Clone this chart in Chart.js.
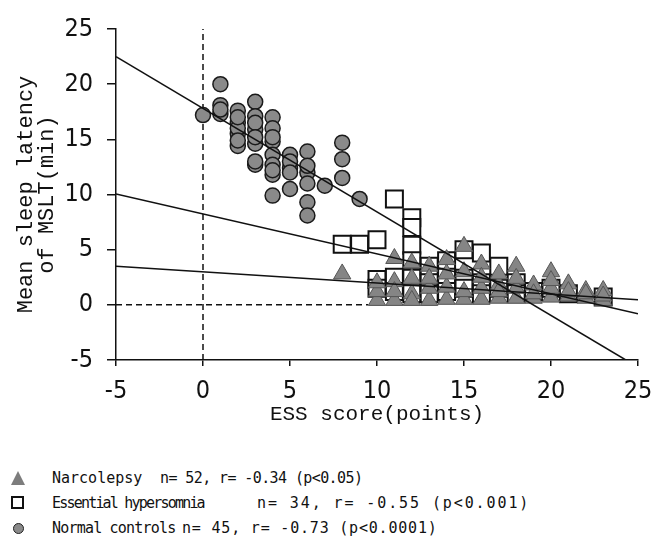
<!DOCTYPE html>
<html>
<head>
<meta charset="utf-8">
<script src="https://cdn.jsdelivr.net/npm/chart.js@4"></script>
<style>
    html, body { margin: 0; padding: 0; background: #fff; }
    #wrap { position: relative; width: 652px; height: 547px; }
    #graph { position: absolute; left: 0; top: 0; }
    .row { position: absolute; left: 0; height: 20px; font: 15px 'DejaVu Sans Mono', monospace; color: #111; white-space: pre; }
    .row span { position: absolute; top: 0; line-height: 20px; }
    .icon { position: absolute; left: 11px; top: 3px; width: 14px; height: 14px; box-sizing: border-box; }
    .tri { background: #7d7d7d; clip-path: polygon(50% 0, 100% 100%, 0 100%); }
    .sq { border: 2px solid #111; background: #fff; width: 13px; height: 13px; }
    .dot { border: 1.5px solid #222; background: #8a8a8a; border-radius: 50%; width: 11px; height: 11px; left: 13px; top: 5px; }
</style>
</head>
<body>
<div id="wrap">
    <canvas id="graph" width="652" height="430"></canvas>
    <div class="row" style="top:468px">
        <div class="icon tri"></div>
        <span style="left:52px">Narcolepsy</span>
        <span style="left:160px; letter-spacing:-0.6px">n= 52, r= -0.34 (p&lt;0.05)</span>
    </div>
    <div class="row" style="top:493px">
        <div class="icon sq"></div>
        <span style="left:52px; letter-spacing:-1.8px">Essential hypersomnia</span>
        <span style="left:257px; letter-spacing:1.9px">n= 34, r= -0.55 (p&lt;0.001)</span>
    </div>
    <div class="row" style="top:518px">
        <div class="icon dot"></div>
        <span style="left:52px; letter-spacing:-0.8px">Normal controls</span>
        <span style="left:182px; letter-spacing:0.8px">n= 45, r= -0.73 (p&lt;0.0001)</span>
    </div>
</div>
<script>
'use strict';

// ESS score (x) and mean sleep latency in min (y)
const narcolepsyX = [8, 10, 10, 10, 11, 11, 11, 11, 12, 12, 12, 12, 13, 13, 13, 13, 14, 14, 14, 14,
    15, 15, 15, 15, 16, 16, 16, 16, 17, 17, 17, 18, 18, 18, 19, 19, 19, 20, 20, 20, 20,
    21, 21, 21, 22, 22, 22, 23, 23, 23, 18, 17];
const narcolepsyY = [2.8, 0.4, 1.2, 2.0, 4.2, 2.1, 0.4, 1.2, 3.8, 1.0, 0.4, 2.4, 3.5, 0.4, 1.5, 2.4, 4.1, 0.5, 1.6, 2.8,
    5.3, 0.5, 1.2, 3.0, 3.7, 0.5, 1.5, 2.5, 0.6, 1.8, 2.8, 3.5, 0.6, 1.5, 0.6, 1.8, 1.0, 3.0, 0.7, 1.5, 2.2,
    1.9, 0.8, 1.2, 1.3, 0.6, 1.0, 1.3, 0.4, 0.8, 2.4, 1.2];

const hypersomniaX = [8, 9, 10, 10, 10, 11, 11, 11, 12, 12, 12, 12, 12, 12, 13, 13, 13, 14, 14, 14,
    15, 15, 15, 16, 16, 16, 17, 17, 18, 18, 19, 20, 21, 23];
const hypersomniaY = [5.5, 5.5, 5.9, 2.3, 1.5, 9.6, 2.5, 1.2, 7.9, 7.0, 5.4, 4.0, 2.4, 1.0, 3.5, 2.0, 1.0, 4.0, 2.5, 1.2,
    5.0, 2.4, 1.5, 4.7, 2.0, 1.0, 3.5, 1.5, 2.0, 1.0, 1.2, 1.5, 1.0, 0.7];

const controlsX = [0, 1, 1, 1, 2, 2, 2, 2, 2, 3, 3, 3, 3, 3, 3, 4, 4, 4, 4, 4, 4, 4,
    5, 5, 5, 5, 6, 6, 6, 6, 6, 7, 8, 8, 8, 9, 2, 3, 4, 5, 1, 6, 2, 3, 4];
const controlsY = [17.2, 20.0, 18.1, 17.3, 17.6, 16.5, 15.5, 14.4, 16.0, 18.4, 17.1, 15.9, 14.6, 16.5, 12.7,
    17.0, 16.0, 14.8, 13.6, 12.7, 11.8, 9.9, 13.6, 12.4, 10.5, 13.0, 13.9, 12.0, 11.0, 9.3, 8.1,
    10.8, 14.7, 13.2, 11.5, 9.6, 17.0, 13.0, 15.2, 12.0, 17.7, 12.6, 14.9, 15.2, 12.2];

// regression lines, end points
const narcolepsyFitX = [-5, 25];
const narcolepsyFitY = [3.5, 0.45];
const hypersomniaFitX = [-5, 25];
const hypersomniaFitY = [10.05, -0.8];
const controlsFitX = [-5, 24.3];
const controlsFitY = [22.5, -5];

const axisTicks = [-5, 0, 5, 10, 15, 20, 25];

function toPoints(xs, ys) {
    return xs.map((x, i) => ({ x: x, y: ys[i] }));
}

const tickFont = { family: "'Liberation Sans Narrow', 'DejaVu Sans Condensed', sans-serif", size: 25 };
const titleFont = { family: "'Liberation Mono', 'DejaVu Sans Mono', monospace", size: 21 };

const fitLine = {
    showLine: true,
    pointRadius: 0,
    borderColor: '#111',
    borderWidth: 1.5,
    fill: false
};

const ctx = document.getElementById('graph').getContext('2d');
new Chart(ctx, {
    type: 'scatter',
    data: {
        datasets: [
            Object.assign({ label: 'Narcolepsy fit', data: toPoints(narcolepsyFitX, narcolepsyFitY) }, fitLine),
            Object.assign({ label: 'Hypersomnia fit', data: toPoints(hypersomniaFitX, hypersomniaFitY) }, fitLine),
            Object.assign({ label: 'Controls fit', data: toPoints(controlsFitX, controlsFitY) }, fitLine),
            {
                label: 'Narcolepsy',
                data: toPoints(narcolepsyX, narcolepsyY),
                pointStyle: 'triangle',
                pointRadius: 10,
                backgroundColor: '#858585',
                borderColor: '#555',
                borderWidth: 1
            },
            {
                label: 'Essential hypersomnia',
                data: toPoints(hypersomniaX, hypersomniaY),
                pointStyle: 'rect',
                pointRadius: 12,
                backgroundColor: '#fff',
                borderColor: '#111',
                borderWidth: 2
            },
            {
                label: 'Normal controls',
                data: toPoints(controlsX, controlsY),
                pointStyle: 'circle',
                pointRadius: 7.5,
                backgroundColor: '#8a8a8a',
                borderColor: '#1a1a1a',
                borderWidth: 1.5
            },
            {
                label: 'zero x',
                data: [{ x: 0, y: -5 }, { x: 0, y: 25 }],
                showLine: true,
                pointRadius: 0,
                borderColor: '#111',
                borderWidth: 1.5,
                borderDash: [6, 4]
            },
            {
                label: 'zero y',
                data: [{ x: -5, y: 0 }, { x: 9.5, y: 0 }],
                showLine: true,
                pointRadius: 0,
                borderColor: '#111',
                borderWidth: 1.5,
                borderDash: [6, 4]
            }
        ]
    },
    options: {
        responsive: false,
        animation: false,
        events: [],
        layout: { padding: { left: 0, right: 13, top: 19, bottom: 0 } },
        plugins: {
            legend: { display: false },
            tooltip: { enabled: false }
        },
        scales: {
            x: {
                type: 'linear',
                min: -5,
                max: 25,
                afterBuildTicks: scale => { scale.ticks = axisTicks.map(v => ({ value: v })); },
                afterFit: scale => {
                    scale.height = 70;
                    scale.paddingRight = 0;
                    scale.paddingLeft = 0;
                },
                border: { display: true, color: '#111', width: 1.5 },
                grid: { drawOnChartArea: false, drawTicks: true, tickLength: 6, color: '#111', lineWidth: 1.5 },
                ticks: { color: '#111', font: tickFont, padding: 10, maxRotation: 0 },
                title: {
                    display: true,
                    text: 'ESS score(points)',
                    color: '#111',
                    font: titleFont,
                    padding: { top: 0, bottom: 3 }
                }
            },
            y: {
                type: 'linear',
                min: -5,
                max: 25,
                afterBuildTicks: scale => { scale.ticks = axisTicks.map(v => ({ value: v })); },
                afterFit: scale => { scale.width = 116; },
                border: { display: true, color: '#111', width: 1.5 },
                grid: { drawOnChartArea: false, drawTicks: true, tickLength: 9, color: '#111', lineWidth: 1.5 },
                ticks: { color: '#111', font: tickFont, padding: 14 },
                title: {
                    display: true,
                    text: ['Mean sleep latency', 'of MSLT(min)'],
                    color: '#111',
                    font: { family: titleFont.family, size: 22, lineHeight: 0.95 },
                    padding: { top: 16, bottom: 0 }
                }
            }
        }
    }
});
</script>
</body>
</html>
